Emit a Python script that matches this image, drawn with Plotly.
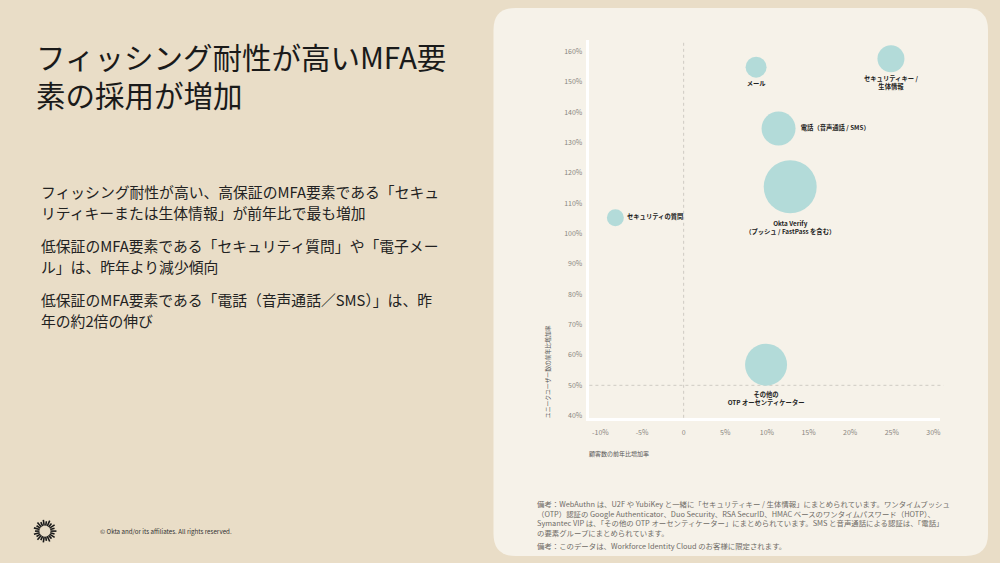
import numpy as np
import plotly.graph_objects as go

# ---- data ----
factor_labels = ["メール", "セキュリティキー /<br>生体情報", "電話（音声通話 / SMS）",
                 "Okta Verify<br>（プッシュ / FastPass を含む）", "セキュリティの質問",
                 "その他の<br>OTP オーセンティケーター"]
customer_growth = [8.7, 24.9, 11.4, 12.8, -8.2, 9.9]      # x, %
user_growth = [154.8, 157.6, 134.6, 115.4, 105.2, 56.8]   # y, %
bubble_value = [21, 27, 34, 53, 17, 42]                   # relative bubble size
label_pos = ["bottom center", "bottom center", "middle right",
             "bottom center", "middle right", "bottom center"]

x_ticks = [-10, -5, 0, 5, 10, 15, 20, 25, 30]
x_ticktext = ["-10%", "-5%", "0", "5%", "10%", "15%", "20%", "25%", "30%"]
y_ticks = list(range(40, 161, 10))
y_ticktext = [f"{v}%" for v in y_ticks]

title_lines = ["フィッシング耐性が高いMFA要", "素の採用が増加"]
body_lines = ["フィッシング耐性が高い、高保証のMFA要素である「セキュ",
              "リティキーまたは生体情報」が前年比で最も増加",
              "低保証のMFA要素である「セキュリティ質問」や「電子メー",
              "ル」は、昨年より減少傾向",
              "低保証のMFA要素である「電話（音声通話／SMS）」は、昨",
              "年の約2倍の伸び"]
note_lines = ["備考：WebAuthn は、U2F や YubiKey と一緒に「セキュリティキー / 生体情報」にまとめられています。ワンタイムプッシュ",
              "（OTP）認証の Google Authenticator、Duo Security、RSA SecurID、HMAC ベースのワンタイムパスワード（HOTP）、",
              "Symantec VIP は、「その他の OTP オーセンティケーター」にまとめられています。SMS と音声通話による認証は、「電話」",
              "の要素グループにまとめられています。",
              "備考：このデータは、Workforce Identity Cloud のお客様に限定されます。"]

FONT = "Noto Sans CJK JP"
W, H = 1000, 563
BG = "#E9DDC7"
CARD = "#F6F2E9"
TEAL = "#B3DBD9"

def px(x):
    return x / W

def py(y):
    return 1 - y / H

fig = go.Figure()
fig.add_trace(go.Scatter(
    x=customer_growth, y=user_growth, mode="markers+text",
    text=["<b>%s</b>" % t for t in factor_labels], textposition=label_pos,
    textfont=dict(family=FONT, size=6.3, color="#222222"),
    marker=dict(size=bubble_value, sizemode="diameter", sizeref=1,
                color=TEAL, line=dict(width=0), opacity=1),
    hoverinfo="skip", showlegend=False, cliponaxis=False,
))

shapes = []
# card with rounded corners
x0, y0, x1, y1, r = 494, 8, 989, 558, 22
path = (f"M {x0+r},{y0} L {x1-r},{y0} Q {x1},{y0} {x1},{y0+r} L {x1},{y1-r} "
        f"Q {x1},{y1} {x1-r},{y1} L {x0+r},{y1} Q {x0},{y1} {x0},{y1-r} "
        f"L {x0},{y0+r} Q {x0},{y0} {x0+r},{y0} Z")

def path_to_paper(p):
    out = []
    for t in p.split():
        if "," in t:
            a, b = t.split(",")
            out.append(f"{px(float(a)):.5f},{py(float(b)):.5f}")
        else:
            out.append(t)
    return " ".join(out)

shapes.append(dict(type="path", xref="paper", yref="paper", path=path_to_paper(path),
                   fillcolor=CARD, line=dict(width=0), layer="below"))
# dotted reference lines
shapes.append(dict(type="line", xref="x", yref="y domain", x0=0, x1=0, y0=0, y1=1,
                   line=dict(color="#CFCBC3", width=1, dash="dot"), layer="below"))
shapes.append(dict(type="line", xref="x domain", yref="y", x0=0, x1=1.01, y0=50, y1=50,
                   line=dict(color="#CFCBC3", width=1, dash="dot"), layer="below"))

# logo sunburst
cx, cy = 45, 533
n = 22
for i in range(n):
    a = 2 * np.pi * i / n
    r1 = 5.5
    r2 = 11.5 if i % 2 == 0 else 10
    shapes.append(dict(type="line", xref="paper", yref="paper",
                       x0=px(cx + r1 * np.cos(a)), y0=py(cy + r1 * np.sin(a)),
                       x1=px(cx + r2 * np.cos(a)), y1=py(cy + r2 * np.sin(a)),
                       line=dict(color="#1a1a1a", width=1.6)))

ann = []
ann.append(dict(text="<br>".join(title_lines), x=px(34), y=py(75.5), xref="paper", yref="paper",
                xanchor="left", yanchor="middle", align="left", showarrow=False,
                font=dict(family=FONT, size=29.5, color="#1a1a1a")))
body_y = [192, 213, 246, 267, 301, 322]
for t, yy in zip(body_lines, body_y):
    ann.append(dict(text=t, x=px(39), y=py(yy), xref="paper", yref="paper",
                    xanchor="left", yanchor="middle", showarrow=False,
                    font=dict(family=FONT, size=14.8, color="#222222")))
note_y = [505, 515.3, 524.8, 534, 547]
for t, yy in zip(note_lines, note_y):
    ann.append(dict(text=t, x=px(536), y=py(yy), xref="paper", yref="paper",
                    xanchor="left", yanchor="middle", showarrow=False,
                    font=dict(family=FONT, size=7.4, color="#6f6b66")))
ann.append(dict(text="© Okta and/or its affiliates. All rights reserved.",
                x=px(98), y=py(533), xref="paper", yref="paper",
                xanchor="left", yanchor="middle", showarrow=False,
                font=dict(family=FONT, size=6.2, color="#333333")))
ann.append(dict(text="ユニークユーザー数の前年比増加率", textangle=-90,
                x=px(548), y=py(373), xref="paper", yref="paper",
                xanchor="center", yanchor="middle", showarrow=False,
                font=dict(family=FONT, size=5.8, color="#555555")))
ann.append(dict(text="顧客数の前年比増加率",
                x=px(588), y=py(455), xref="paper", yref="paper",
                xanchor="left", yanchor="middle", showarrow=False,
                font=dict(family=FONT, size=6, color="#555555")))

fig.update_layout(
    width=W, height=H, margin=dict(l=0, r=0, t=0, b=0),
    paper_bgcolor=BG, plot_bgcolor="rgba(0,0,0,0)",
    shapes=shapes, annotations=ann, showlegend=False,
    xaxis=dict(domain=[px(590), px(941)], range=[-11.32, 30.8],
               tickvals=x_ticks, ticktext=x_ticktext, showgrid=False, zeroline=False,
               showline=True, linecolor="#FFFFFF", linewidth=2.5, ticks="",
               ticklabelstandoff=6,
               tickfont=dict(family=FONT, size=7, color="#8a8680"), fixedrange=True),
    yaxis=dict(domain=[py(419.3), py(40)], range=[39.3, 163.8],
               tickvals=y_ticks, ticktext=y_ticktext, showgrid=False, zeroline=False,
               showline=True, linecolor="#FFFFFF", linewidth=2.5, ticks="",
               ticklabelstandoff=3,
               tickfont=dict(family=FONT, size=7, color="#8a8680"), fixedrange=True),
)
fig.write_html("out.html", config={"displayModeBar": False},
               post_script="document.body.style.margin='0';document.body.style.background='%s';" % BG)
